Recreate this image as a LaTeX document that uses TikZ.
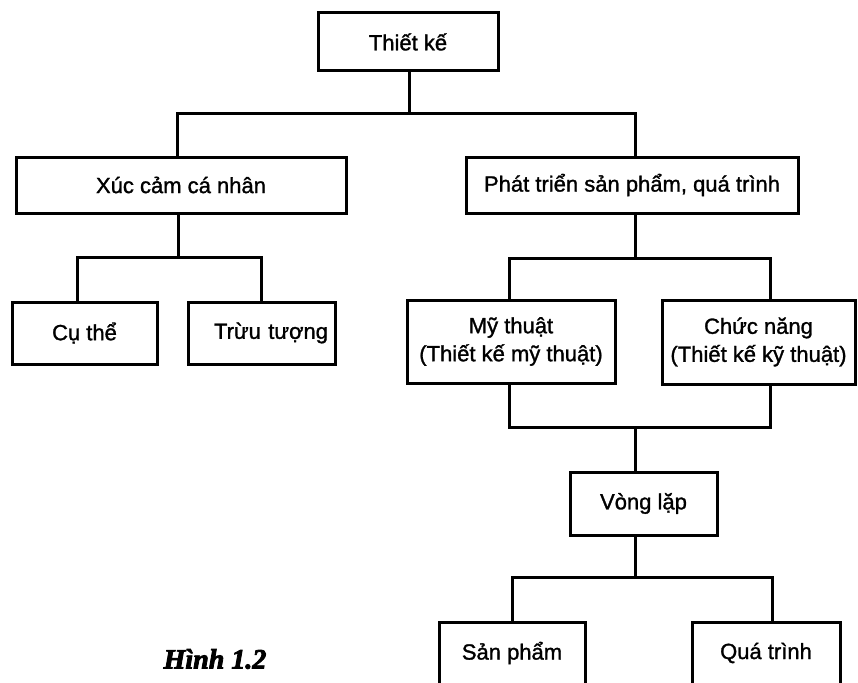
\documentclass[tikz,border=0pt]{standalone}
\usepackage{fontspec}
\newfontfamily\boxfam{Liberation Sans}[FakeBold=1.3]
\newfontfamily\hinhfam{Liberation Serif}[BoldItalicFeatures={FakeBold=3}]
\usepackage{tikz}
\usetikzlibrary{positioning}
\newcommand\boxfont{\boxfam\fontsize{22}{28}\selectfont}
\newcommand\hinhfont{\hinhfam\bfseries\itshape\fontsize{28}{32}\selectfont}

\begin{document}
\begin{tikzpicture}[x=1pt, y=-1pt, line width=3pt, line cap=rect,
	box/.style={draw, rectangle, line width=3pt, font=\boxfont, align=center, inner sep=0pt}]
\useasboundingbox (0,0) rectangle (858,682);

% cac hop
\node[box, minimum width=180pt, minimum height=58pt] (thietke) at (408,42) {Thiết kế};
\node[box, minimum width=330pt, minimum height=56pt] (xuccam) at (181,185) {Xúc cảm cá nhân};
\node[box, minimum width=332pt, minimum height=56pt] (phattrien) at (632,185) {Phát triển sản phẩm, quá trình};
\node[box, minimum width=145pt, minimum height=62pt] (cuthe) at (84.5,333) {Cụ thể};
\node[box, minimum width=147pt, minimum height=62pt, text width=133pt, align=right] (truutuong) at (261.5,333) {Trừu tượng};
\node[box, minimum width=208pt, minimum height=83pt] (mythuat) at (511,341.5) {Mỹ thuật\\(Thiết kế mỹ thuật)};
\node[box, minimum width=193pt, minimum height=84pt] (chucnang) at (758.5,342) {Chức năng\\(Thiết kế kỹ thuật)};
\node[box, minimum width=147pt, minimum height=63pt] (vonglap) at (643.5,503.5) {Vòng lặp};
\node[box, minimum width=146pt, minimum height=62pt] (sanpham) at (512,653) {Sản phẩm};
\node[box, minimum width=148pt, minimum height=62pt] (quatrinh) at (766,653) {Quá trình};

\node[font=\hinhfont] (hinh) at (215,659) {Hình 1.2};

% duong noi
\draw ([xshift=1pt]thietke.south) -- ++(0,41) coordinate (b1);
\draw ([xshift=-4pt]xuccam.north) |- (b1) -| ([xshift=3pt]phattrien.north);

\draw ([xshift=-3pt]xuccam.south) -- ++(0,43) coordinate (b2);
\draw ([xshift=-7pt]cuthe.north) |- (b2) -| (truutuong.north);

\draw ([xshift=3pt]phattrien.south) -- ++(0,44) coordinate (b3);
\draw ([xshift=-2pt]mythuat.north) |- (b3) -| ([xshift=12pt]chucnang.north);

\coordinate (b4) at (635,427);
\draw ([xshift=-2pt]mythuat.south) |- (b4) -| ([xshift=12pt]chucnang.south);
\draw (b4) -- ([xshift=-8.5pt]vonglap.north);

\draw ([xshift=-8.5pt]vonglap.south) -- ++(0,41) coordinate (b5);
\draw (sanpham.north) |- (b5) -| ([xshift=6pt]quatrinh.north);
\end{tikzpicture}
\end{document}
